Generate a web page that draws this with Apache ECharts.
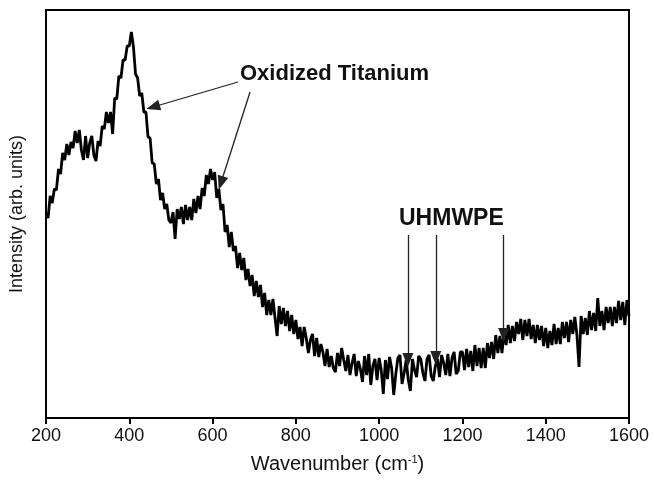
<!DOCTYPE html>
<html>
<head>
<meta charset="utf-8">
<script src="https://cdn.jsdelivr.net/npm/echarts@6/dist/echarts.min.js"></script>
<style>
body { margin: 0; background: #fff; }
#chart { width: 654px; height: 480px; }
</style>
</head>
<body>
<div id="chart"></div>
<script>
// spectrum sampled every 5 cm-1 from 200 to 1600 (arb. units)
var wnStart = 200;
var wnStep = 5;
var intensity = [
 205,200,222,215,229,228,249,244,265,258,274,263,276,270,287,275,288,268,258,282,
 260,275,282,263,257,277,272,292,289,306,295,306,284,320,319,342,340,358,358,372,
 372,386,371,344,340,322,325,306,306,281,280,255,254,234,239,218,225,209,214,198,
 195,206,179,209,199,211,194,213,198,211,198,219,205,222,209,230,222,243,234,249,
 238,246,220,229,208,214,186,193,171,186,167,172,150,165,148,160,138,149,132,143,
 122,137,121,133,111,125,103,118,103,119,100,82,112,94,110,92,107,87,103,84,
 98,79,91,72,91,80,65,78,84,62,80,61,74,66,52,69,51,62,50,46,
 65,52,70,58,47,63,43,55,64,42,57,49,36,62,43,64,33,52,59,38,
 60,48,24,58,39,61,50,23,44,60,63,34,45,58,38,27,59,48,41,62,
 59,45,37,59,63,42,37,52,59,41,63,55,43,64,42,60,66,44,47,66,
 66,48,69,51,67,47,73,52,70,50,70,50,75,60,76,59,83,65,82,65,
 87,73,93,75,92,77,96,84,99,78,98,82,99,79,93,75,93,78,92,72,
 90,70,87,73,94,74,90,74,96,80,96,76,98,84,101,83,51,102,84,100,
 83,107,88,105,87,120,92,107,88,111,95,111,92,111,95,117,98,116,93,118,
 102
];
var xTicks = [200, 400, 600, 800, 1000, 1200, 1400, 1600];
var uhmwpeBands = [1069, 1136, 1299];
var uhmwpeTips = [58, 60, 83];

var seriesData = [];
for (var i = 0; i < intensity.length; i++) {
  seriesData.push([wnStart + i * wnStep, intensity[i]]);
}

function arrow(from, to) {
  return [{ coord: from, symbol: 'none' }, { coord: to, symbol: 'triangle', symbolSize: [11, 14] }];
}

var arrows = [
  arrow([661, 336], [457, 311]),
  arrow([690, 326], [620, 235])
];
for (var j = 0; j < uhmwpeBands.length; j++) {
  arrows.push(arrow([uhmwpeBands[j], 183], [uhmwpeBands[j], uhmwpeTips[j]]));
}

var myChart = echarts.init(document.getElementById('chart'));
var option = {
  animation: false,
  backgroundColor: '#fff',
  textStyle: { fontFamily: 'Liberation Sans, Arial, sans-serif' },
  grid: {
    left: 46, right: 25, top: 10, bottom: 62,
    show: true, borderColor: '#000', borderWidth: 2, backgroundColor: 'transparent'
  },
  xAxis: {
    type: 'value',
    min: 200, max: 1600, interval: 200,
    name: 'Wavenumber (cm{sup|-1})',
    nameLocation: 'middle',
    nameGap: 36,
    nameTextStyle: {
      fontSize: 20, color: '#111',
      rich: { sup: { fontSize: 11, verticalAlign: 'top', padding: [0, 0, 10, 0], color: '#111' } }
    },
    axisLine: { lineStyle: { color: '#000', width: 2 } },
    axisTick: { show: true, length: 6, lineStyle: { color: '#000', width: 2 } },
    axisLabel: {
      fontSize: 18, color: '#111', margin: 9,
      formatter: function (v) { return String(v); }
    },
    splitLine: { show: false }
  },
  yAxis: {
    type: 'value',
    min: 0, max: 408,
    name: 'Intensity (arb. units)',
    nameLocation: 'middle',
    nameGap: 20,
    nameTextStyle: { fontSize: 18, color: '#111' },
    axisLine: { show: true, lineStyle: { color: '#000', width: 2 } },
    axisTick: { show: false },
    axisLabel: { show: false },
    splitLine: { show: false }
  },
  series: [{
    type: 'line',
    data: seriesData,
    showSymbol: false,
    lineStyle: { color: '#000', width: 2.8 },
    markLine: {
      silent: true,
      animation: false,
      label: { show: false },
      lineStyle: { color: '#222', width: 1.3, type: 'solid' },
      itemStyle: { color: '#222' },
      data: arrows
    }
  }],
  graphic: [
    {
      type: 'text', left: 240, top: 63,
      style: { text: 'Oxidized Titanium', font: 'bold 22px Liberation Sans, Arial, sans-serif', fill: '#111' }
    },
    {
      type: 'text', left: 399, top: 207,
      style: { text: 'UHMWPE', font: 'bold 23px Liberation Sans, Arial, sans-serif', fill: '#111' }
    }
  ]
};
myChart.setOption(option);
</script>
</body>
</html>
